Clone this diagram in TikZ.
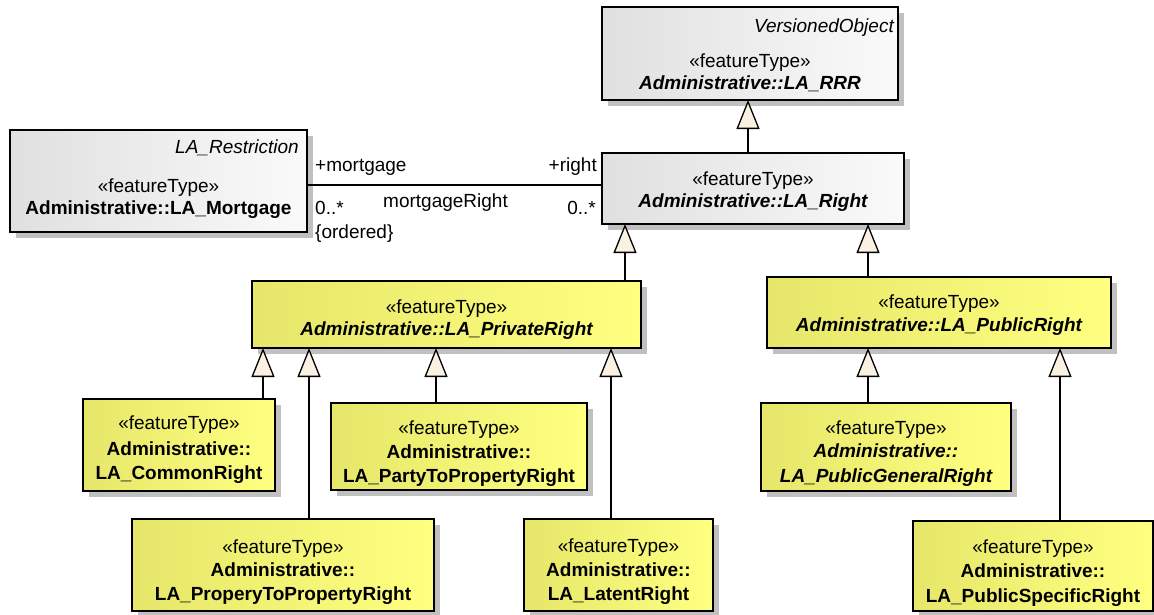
\documentclass[tikz,border=0pt]{standalone}
\usepackage{fontspec}
\setmainfont{Liberation Sans}
\usetikzlibrary{arrows.meta,shadows}
\definecolor{shadowgray}{HTML}{C0C0C0}
\definecolor{cream}{HTML}{FBF1E3}
\definecolor{grayL}{HTML}{E0E0E0}
\definecolor{grayR}{HTML}{FAFAFA}
\definecolor{yelL}{HTML}{E6E66A}
\definecolor{yelR}{HTML}{FFFF80}
\tikzset{
  box/.style={draw=black, line width=1.4pt, inner sep=0pt, outer sep=0pt, anchor=north west,
    drop shadow={shadow xshift=6pt, shadow yshift=-6pt, fill=shadowgray, opacity=1}},
  graybox/.style={box, left color=grayL, right color=grayR},
  yelbox/.style={box, left color=yelL, right color=yelR},
  txt/.style={anchor=base, inner sep=0pt, font=\fontsize{19}{22}\selectfont},
  gen/.style={draw=black, line width=1.3pt, -{Triangle[length=29pt,width=23pt,fill=cream]}},
  assoc/.style={draw=black, line width=1.3pt},
}
\begin{document}
\begin{tikzpicture}[x=1pt,y=-1pt]
\path[use as bounding box] (0,0) rectangle (1154,614);

% ---- boxes ----
\node[graybox, minimum width=296pt, minimum height=93pt] (rrr) at (602,7) {};
\node[graybox, minimum width=302pt, minimum height=71pt] (right) at (602,153) {};
\node[graybox, minimum width=297pt, minimum height=102pt] (mort) at (10,130) {};
\node[yelbox, minimum width=389pt, minimum height=67pt] (priv) at (252,281) {};
\node[yelbox, minimum width=344pt, minimum height=71pt] (pub) at (767,277) {};
\node[yelbox, minimum width=192pt, minimum height=92pt] (common) at (83,399) {};
\node[yelbox, minimum width=256pt, minimum height=87pt] (party) at (331,403) {};
\node[yelbox, minimum width=302pt, minimum height=92pt] (propery) at (132,519) {};
\node[yelbox, minimum width=189pt, minimum height=92pt] (latent) at (524,519) {};
\node[yelbox, minimum width=250pt, minimum height=88pt] (pgr) at (761,403) {};
\node[yelbox, minimum width=240pt, minimum height=90pt] (psr) at (913,521) {};

% ---- texts ----
\node[txt, anchor=base east] (rrrsup) at (894,32) {\itshape VersionedObject};
\node[txt] (rrrst) at (750,67) {«featureType»};
\node[txt] (rrrnm) at (750,89) {\bfseries\itshape Administrative::LA\_RRR};

\node[txt] (rightst) at (753,185) {«featureType»};
\node[txt] (rightnm) at (753,207) {\bfseries\itshape Administrative::LA\_Right};

\node[txt, anchor=base east] (mortsup) at (299,153) {\itshape LA\_Restriction};
\node[txt] (mortst) at (158.5,192) {«featureType»};
\node[txt] (mortnm) at (158.5,214) {\bfseries Administrative::LA\_Mortgage};

\node[txt] (privst) at (446.5,313) {«featureType»};
\node[txt] (privnm) at (446.5,335) {\bfseries\itshape Administrative::LA\_PrivateRight};

\node[txt] (pubst) at (939,308) {«featureType»};
\node[txt] (pubnm) at (939,331) {\bfseries\itshape Administrative::LA\_PublicRight};

\node[txt] (commonst) at (179,429) {«featureType»};
\node[txt] (commonn1) at (179,455) {\bfseries Administrative::};
\node[txt] (commonn2) at (179,479) {\bfseries LA\_CommonRight};

\node[txt] (partyst) at (459,434) {«featureType»};
\node[txt] (partyn1) at (459,458) {\bfseries Administrative::};
\node[txt] (partyn2) at (459,482) {\bfseries LA\_PartyToPropertyRight};

\node[txt] (properyst) at (283,553) {«featureType»};
\node[txt] (properyn1) at (283,576) {\bfseries Administrative::};
\node[txt] (properyn2) at (283,600) {\bfseries LA\_ProperyToPropertyRight};

\node[txt] (latentst) at (618.5,552) {«featureType»};
\node[txt] (latentn1) at (618.5,576) {\bfseries Administrative::};
\node[txt] (latentn2) at (618.5,600) {\bfseries LA\_LatentRight};

\node[txt] (pgrst) at (886,434) {«featureType»};
\node[txt] (pgrn1) at (886,457) {\bfseries\itshape Administrative::};
\node[txt] (pgrn2) at (886,482) {\bfseries\itshape LA\_PublicGeneralRight};

\node[txt] (psrst) at (1033,553) {«featureType»};
\node[txt] (psrn1) at (1033,577) {\bfseries Administrative::};
\node[txt] (psrn2) at (1033,602) {\bfseries LA\_PublicSpecificRight};

% ---- association ----
\draw[assoc] (mort.east |- 0,185) -- (right.west |- 0,185);
\node[txt, anchor=base west] (rolem) at (315,171) {+mortgage};
\node[txt, anchor=base east] (roler) at (597,171) {+right};
\node[txt, anchor=base west] (multm) at (315,214) {0..*};
\node[txt, anchor=base west] (assocname) at (383,207) {mortgageRight};
\node[txt, anchor=base east] (multr) at (596,214) {0..*};
\node[txt, anchor=base west] (ordered) at (315,238) {\{ordered\}};

% ---- generalizations ----
\draw[gen] (right.north -| 748,0) -- (rrr.south -| 748,0);
\draw[gen] (priv.north -| 625,0) -- (right.south -| 625,0);
\draw[gen] (pub.north -| 868,0) -- (right.south -| 868,0);
\draw[gen] (common.north -| 263,0) -- (priv.south -| 263,0);
\draw[gen] (propery.north -| 309,0) -- (priv.south -| 309,0);
\draw[gen] (party.north -| 436,0) -- (priv.south -| 436,0);
\draw[gen] (latent.north -| 611,0) -- (priv.south -| 611,0);
\draw[gen] (pgr.north -| 868,0) -- (pub.south -| 868,0);
\draw[gen] (psr.north -| 1060,0) -- (pub.south -| 1060,0);
\end{tikzpicture}
\end{document}
